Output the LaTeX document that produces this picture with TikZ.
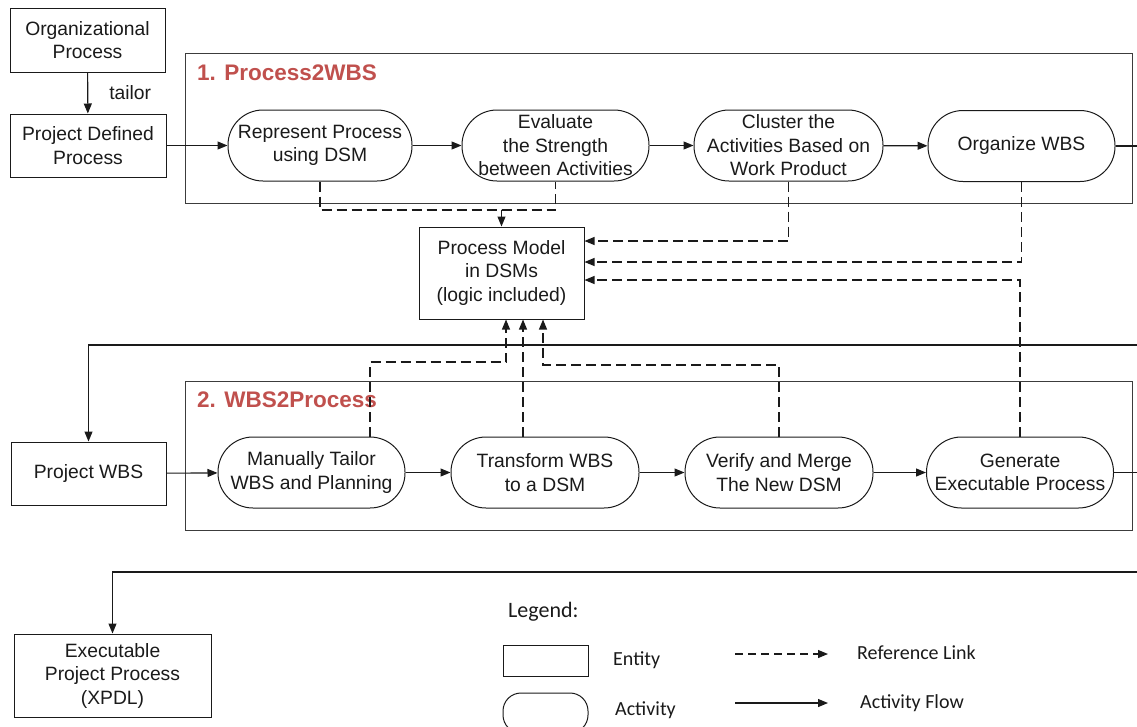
\documentclass[tikz,border=0pt]{standalone}
\usepackage{fontspec}
\setmainfont{Liberation Sans}
\newfontfamily\legendfont{Carlito}
\usetikzlibrary{arrows.meta}
\definecolor{titlered}{HTML}{C0504D}
\definecolor{ink}{HTML}{1A1A1A}
\begin{document}
\begin{tikzpicture}[x=1pt,y=-1pt,
  every node/.style={inner sep=0pt, text=ink, font=\fontsize{19.3}{23.5}\selectfont},
  entity/.style={draw=ink, line width=1pt, rectangle, align=center},
  activity/.style={draw=ink, line width=1pt, rectangle, rounded corners=35pt, minimum width=187pt, minimum height=71pt, align=center},
  group/.style={draw=ink!85, line width=1pt, rectangle},
  gtitle/.style={anchor=west, text=titlered, font=\fontsize{22.5}{27}\selectfont\bfseries},
  flow/.style={draw=ink, line width=1.1pt, -{Triangle[length=10pt,width=8pt]}},
  ref/.style={draw=ink, line width=1.1pt, dash pattern=on 10pt off 5pt, -{Triangle[length=10pt,width=8pt]}},
  refline/.style={draw=ink, line width=1.1pt, dash pattern=on 10pt off 5pt},
  leg/.style={anchor=west, font=\legendfont\fontsize{20}{24}\selectfont},
]
\useasboundingbox (0,0) rectangle (1137,726);
\clip (0,0) rectangle (1137,726);

% group boxes
\node[group, minimum width=947pt, minimum height=150pt] (g1) at (658.5,128) {};
\node[gtitle] (t1) at (197,73) {1. Process2WBS};
\node[group, minimum width=947pt, minimum height=149pt] (g2) at (658.5,455.5) {};
\node[gtitle] (t2) at (197,400) {2. WBS2Process};

% entities
\node[entity, minimum width=155pt, minimum height=64pt] (org) at (87.5,40) {Organizational\\Process};
\node[entity, minimum width=156pt, minimum height=63pt] (pdp) at (88,145.5) {Project Defined\\Process};
\node[entity, minimum width=165pt, minimum height=92pt] (pm) at (501.5,273) {Process Model\\in DSMs\\(logic included)};
\node[entity, minimum width=155pt, minimum height=63pt] (pwbs) at (88.5,473.5) {Project WBS};
\node[entity, minimum width=197pt, minimum height=83pt] (exe) at (112.5,675.5) {Executable\\Project Process\\(XPDL)};

% activities row 1
\node[activity, minimum width=184pt] (a1) at (320,145.5) {Represent Process\\using DSM};
\node[activity] (a2) at (555.5,145.5) {Evaluate\\the Strength\\between Activities};
\node[activity, minimum width=189pt] (a3) at (788.5,145.5) {Cluster the\\Activities Based on\\Work Product};
\node[activity] (a4) at (1021.5,146) {Organize WBS};

% activities row 2
\node[activity] (a5) at (311.5,472.5) {Manually Tailor\\WBS and Planning};
\node[activity, minimum width=188pt] (a6) at (545,472.5) {Transform WBS\\to a DSM};
\node[activity, minimum width=188pt] (a7) at (779,472.5) {Verify and Merge\\The New DSM};
\node[activity] (a8) at (1020,472.5) {Generate\\Executable Process};

% activity flow
\draw[flow] (org) -- (pdp) node[midway, anchor=west, xshift=21pt] (tl) {tailor};
\draw[flow] (pdp) -- (a1);
\draw[flow] (a1) -- (a2);
\draw[flow] (a2) -- (a3);
\draw[flow] (a3) -- (a4);
\draw[flow] (a4.east) -- (1170,146) -- (1170,345) -- (pwbs.north |- 0,345) -- (pwbs.north);
\draw[flow] (pwbs) -- (a5);
\draw[flow] (a5) -- (a6);
\draw[flow] (a6) -- (a7);
\draw[flow] (a7) -- (a8);
\draw[flow] (a8.east) -- (1170,472.5) -- (1170,572) -- (exe.north |- 0,572) -- (exe.north);

% reference links
\coordinate (j1) at (501.5,210);
\draw[refline] (a1.south) |- (j1) -| (a2.south);
\draw[ref] (j1) -- (pm.north);
\draw[ref] (a3.south) |- (pm.east |- 0,241);
\draw[ref] (a4.south) |- (pm.east |- 0,262);
\draw[ref] (a8.north) |- (pm.east |- 0,280);
\draw[ref] (a5.north -| 370,0) |- (506,362) -- (pm.south -| 506,0);
\draw[ref] (a6.north -| 523,0) -- (pm.south -| 523,0);
\draw[ref] (a7.north) |- (543,365) -- (pm.south -| 543,0);

% legend
\node[leg, font=\legendfont\fontsize{22}{26}\selectfont] (lg) at (508,612) {Legend:};
\node[draw=ink, line width=1pt, minimum width=85pt, minimum height=31pt] (le) at (545.5,660.5) {};
\node[leg] (let) at (613,660) {Entity};
\node[draw=ink, line width=1pt, rounded corners=18pt, minimum width=85pt, minimum height=40pt] (la) at (545.5,713) {};
\node[leg] (lat) at (615,710) {Activity};
\coordinate (r1) at (735,654);
\coordinate (r2) at (828,654);
\draw[ref, dash pattern=on 8pt off 5pt] (r1) -- (r2);
\node[leg] (lrt) at (857,653) {Reference Link};
\coordinate (f1) at (735,703);
\coordinate (f2) at (828,703);
\draw[flow] (f1) -- (f2);
\node[leg] (lft) at (860,703) {Activity Flow};
\end{tikzpicture}
\end{document}
